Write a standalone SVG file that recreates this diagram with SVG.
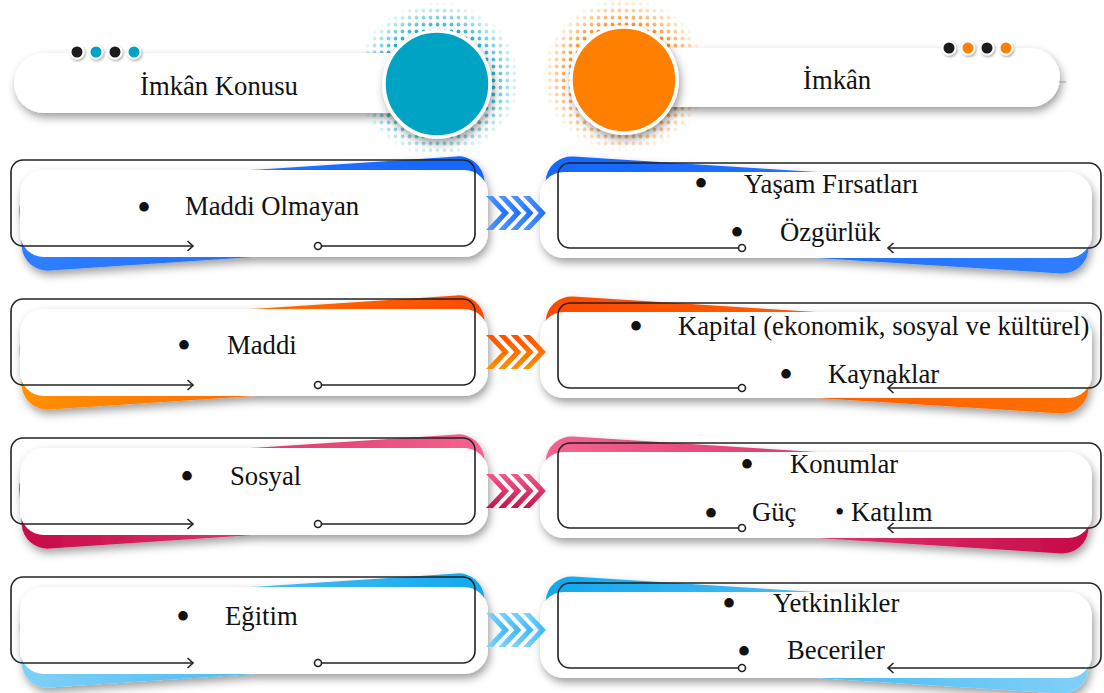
<svg xmlns="http://www.w3.org/2000/svg" width="1104" height="693" viewBox="0 0 1104 693">
  <defs>
    <style>
      .t { font-family: "Liberation Serif", "Times New Roman", serif; font-size: 26.7px; fill: #111; }
      .b { font-family: "Liberation Serif", "Times New Roman", serif; font-size: 40px; fill: #111; text-anchor: middle; }
      .card { fill: #fff; }
      .line { fill: none; stroke: #222; stroke-width: 1.6; }
      .ring { fill: #fff; stroke: #222; stroke-width: 1.6; }
      .pill { fill: #fff; }
    </style>
    <filter id="sh" x="-10%" y="-25%" width="125%" height="160%">
      <feDropShadow dx="2" dy="4.5" stdDeviation="4.5" flood-color="#000" flood-opacity="0.38"/>
    </filter>
    <filter id="shs" x="-50%" y="-50%" width="200%" height="200%">
      <feDropShadow dx="1" dy="1.5" stdDeviation="1.2" flood-color="#000" flood-opacity="0.35"/>
    </filter>
    <marker id="arr" markerWidth="10" markerHeight="12" refX="7" refY="6" orient="auto" markerUnits="userSpaceOnUse">
      <path d="M1.5,1 L7,6 L1.5,11" fill="none" stroke="#222" stroke-width="1.6"/>
    </marker>

    <!-- swoosh fills: left cards and mirrored right cards -->
    <linearGradient id="blueL" x1="0" y1="0" x2="1" y2="0"><stop offset="0" stop-color="#2f7dff"/><stop offset="1" stop-color="#1466ff"/></linearGradient>
    <linearGradient id="blueR" x1="0" y1="0" x2="1" y2="0"><stop offset="0" stop-color="#1466ff"/><stop offset="1" stop-color="#2f7dff"/></linearGradient>
    <linearGradient id="orL" x1="0" y1="0" x2="1" y2="0"><stop offset="0" stop-color="#ff9000"/><stop offset="1" stop-color="#ff4a00"/></linearGradient>
    <linearGradient id="orR" x1="0" y1="0" x2="1" y2="0"><stop offset="0" stop-color="#ff4a00"/><stop offset="1" stop-color="#ff7000"/></linearGradient>
    <linearGradient id="pkL" x1="0" y1="0" x2="1" y2="0"><stop offset="0" stop-color="#c70a48"/><stop offset="1" stop-color="#f4648f"/></linearGradient>
    <linearGradient id="pkR" x1="0" y1="0" x2="1" y2="0"><stop offset="0" stop-color="#f4648f"/><stop offset="1" stop-color="#c70a48"/></linearGradient>
    <linearGradient id="skL" x1="0" y1="0" x2="1" y2="0"><stop offset="0" stop-color="#80d0f8"/><stop offset="1" stop-color="#12a8ee"/></linearGradient>
    <linearGradient id="skR" x1="0" y1="0" x2="1" y2="0"><stop offset="0" stop-color="#12a8ee"/><stop offset="1" stop-color="#80d0f8"/></linearGradient>

    <!-- chevron fills -->
    <linearGradient id="cvBlue" x1="0" y1="0" x2="1" y2="0"><stop offset="0" stop-color="#5a9bff"/><stop offset="1" stop-color="#1a6cff"/></linearGradient>
    <linearGradient id="cvOr" x1="0" y1="0" x2="0" y2="1"><stop offset="0" stop-color="#ff4f00"/><stop offset="1" stop-color="#ff9000"/></linearGradient>
    <linearGradient id="cvPk" x1="0" y1="0" x2="0" y2="1"><stop offset="0" stop-color="#f05a88"/><stop offset="1" stop-color="#c8124c"/></linearGradient>
    <linearGradient id="cvSk" x1="0" y1="0" x2="1" y2="0"><stop offset="0" stop-color="#8ad6fb"/><stop offset="1" stop-color="#34b6f4"/></linearGradient>

    <!-- halftone halos behind the header discs -->
    <pattern id="dotT" width="7" height="7" patternUnits="userSpaceOnUse">
      <circle cx="3.5" cy="3.5" r="1.9" fill="#00a3c4"/>
    </pattern>
    <pattern id="dotO" width="7" height="7" patternUnits="userSpaceOnUse">
      <circle cx="3.5" cy="3.5" r="1.9" fill="#ff7f00"/>
    </pattern>
    <radialGradient id="fade">
      <stop offset="0.6" stop-color="#fff"/>
      <stop offset="1" stop-color="#000"/>
    </radialGradient>
    <mask id="mL" maskUnits="userSpaceOnUse" x="350" y="0" width="175" height="160">
      <rect x="355" y="2" width="165" height="155" fill="url(#fade)"/>
    </mask>
    <mask id="mR" maskUnits="userSpaceOnUse" x="535" y="0" width="180" height="160">
      <rect x="542" y="-2" width="165" height="155" fill="url(#fade)"/>
    </mask>

    <polygon id="chev" points="0,0 7,0 23,17 7,34 0,34 16,17"/>
  </defs>

  <rect width="1104" height="693" fill="#fff"/>

  <!-- header: left -->
  <g id="header-left">
    <rect x="355" y="2" width="165" height="155" fill="url(#dotT)" mask="url(#mL)"/>
    <rect class="pill" x="14" y="53" width="420" height="60" rx="30" filter="url(#sh)"/>
    <g filter="url(#shs)">
      <circle cx="77" cy="52" r="6.5" fill="#1a1a1a" stroke="#fff" stroke-width="2"/>
      <circle cx="96" cy="52" r="6.5" fill="#00a3c4" stroke="#fff" stroke-width="2"/>
      <circle cx="115" cy="52" r="6.5" fill="#1a1a1a" stroke="#fff" stroke-width="2"/>
      <circle cx="134" cy="52" r="6.5" fill="#00a3c4" stroke="#fff" stroke-width="2"/>
    </g>
    <circle cx="437" cy="84" r="53" fill="#00a3c4" stroke="#fff" stroke-width="3.5" filter="url(#sh)"/>
    <text class="t" x="140" y="95">İmkân Konusu</text>
  </g>

  <!-- header: right -->
  <g id="header-right">
    <rect x="542" y="-2" width="165" height="155" fill="url(#dotO)" mask="url(#mR)"/>
    <rect class="pill" x="600" y="48" width="460" height="59" rx="29.5" filter="url(#sh)"/>
    <line x1="1059" y1="82" x2="1066" y2="82" stroke="#999" stroke-width="1"/>
    <g filter="url(#shs)">
      <circle cx="949" cy="48" r="6.5" fill="#1a1a1a" stroke="#fff" stroke-width="2"/>
      <circle cx="968" cy="48" r="6.5" fill="#ff7f00" stroke="#fff" stroke-width="2"/>
      <circle cx="987" cy="48" r="6.5" fill="#1a1a1a" stroke="#fff" stroke-width="2"/>
      <circle cx="1006" cy="48" r="6.5" fill="#ff7f00" stroke="#fff" stroke-width="2"/>
    </g>
    <circle cx="624" cy="80" r="53" fill="#ff7f00" stroke="#fff" stroke-width="3.5" filter="url(#sh)"/>
    <text class="t" x="803" y="89">İmkân</text>
  </g>

  <!-- row 1 -->
  <g id="left-1">
    <g filter="url(#sh)">
      <rect x="20" y="170" width="466" height="87" rx="26" fill="url(#blueL)" transform="rotate(-3.8 253 213.5)"/>
      <rect class="card" x="20" y="170" width="468" height="87" rx="24"/>
    </g>
    <path class="line" marker-end="url(#arr)" d="M321.5,246 H463 A12,12 0 0 0 475,234 V172 A12,12 0 0 0 463,160 H23 A12,12 0 0 0 11,172 V234 A12,12 0 0 0 23,246 H193"/>
    <circle class="ring" cx="318" cy="246" r="3.5"/>
    <text class="b" x="144" y="221">•</text>
    <text class="t" x="185" y="215">Maddi Olmayan</text>
  </g>
  <g id="right-1">
    <g filter="url(#sh)">
      <rect x="544" y="172" width="546" height="86" rx="26" fill="url(#blueR)" transform="rotate(3.6 817 215)"/>
      <rect class="card" x="540" y="172" width="552" height="86" rx="24"/>
    </g>
    <path class="line" marker-end="url(#arr)" d="M738.5,248 H570 A12,12 0 0 1 558,236 V175 A12,12 0 0 1 570,163 H1089 A12,12 0 0 1 1101,175 V236 A12,12 0 0 1 1089,248 H888"/>
    <circle class="ring" cx="742" cy="248" r="3.5"/>
    <text class="b" x="701" y="197">•</text>
    <text class="t" x="744" y="193">Yaşam Fırsatları</text>
    <text class="b" x="737" y="246">•</text>
    <text class="t" x="780" y="241">Özgürlük</text>
  </g>

  <!-- row 2 -->
  <g id="left-2">
    <g filter="url(#sh)">
      <rect x="20" y="309" width="466" height="87" rx="26" fill="url(#orL)" transform="rotate(-3.8 253 352.5)"/>
      <rect class="card" x="20" y="309" width="468" height="87" rx="24"/>
    </g>
    <path class="line" marker-end="url(#arr)" d="M321.5,385 H463 A12,12 0 0 0 475,373 V311 A12,12 0 0 0 463,299 H23 A12,12 0 0 0 11,311 V373 A12,12 0 0 0 23,385 H193"/>
    <circle class="ring" cx="318" cy="385" r="3.5"/>
    <text class="b" x="184" y="359">•</text>
    <text class="t" x="227" y="354">Maddi</text>
  </g>
  <g id="right-2">
    <g filter="url(#sh)">
      <rect x="544" y="312" width="546" height="86" rx="26" fill="url(#orR)" transform="rotate(3.6 817 355)"/>
      <rect class="card" x="540" y="312" width="552" height="86" rx="24"/>
    </g>
    <path class="line" marker-end="url(#arr)" d="M738.5,388 H570 A12,12 0 0 1 558,376 V315 A12,12 0 0 1 570,303 H1089 A12,12 0 0 1 1101,315 V376 A12,12 0 0 1 1089,388 H888"/>
    <circle class="ring" cx="742" cy="388" r="3.5"/>
    <text class="b" x="636" y="340">•</text>
    <text class="t" x="678" y="335">Kapital (ekonomik, sosyal ve kültürel)</text>
    <text class="b" x="786" y="388">•</text>
    <text class="t" x="828" y="383">Kaynaklar</text>
  </g>

  <!-- row 3 -->
  <g id="left-3">
    <g filter="url(#sh)">
      <rect x="20" y="448" width="466" height="87" rx="26" fill="url(#pkL)" transform="rotate(-3.8 253 491.5)"/>
      <rect class="card" x="20" y="448" width="468" height="87" rx="24"/>
    </g>
    <path class="line" marker-end="url(#arr)" d="M321.5,524 H463 A12,12 0 0 0 475,512 V450 A12,12 0 0 0 463,438 H23 A12,12 0 0 0 11,450 V512 A12,12 0 0 0 23,524 H193"/>
    <circle class="ring" cx="318" cy="524" r="3.5"/>
    <text class="b" x="187" y="490">•</text>
    <text class="t" x="230" y="485">Sosyal</text>
  </g>
  <g id="right-3">
    <g filter="url(#sh)">
      <rect x="544" y="452" width="546" height="86" rx="26" fill="url(#pkR)" transform="rotate(3.6 817 495)"/>
      <rect class="card" x="540" y="452" width="552" height="86" rx="24"/>
    </g>
    <path class="line" marker-end="url(#arr)" d="M738.5,528 H570 A12,12 0 0 1 558,516 V455 A12,12 0 0 1 570,443 H1089 A12,12 0 0 1 1101,455 V516 A12,12 0 0 1 1089,528 H888"/>
    <circle class="ring" cx="742" cy="528" r="3.5"/>
    <text class="b" x="747" y="478">•</text>
    <text class="t" x="790" y="473">Konumlar</text>
    <text class="b" x="711" y="527">•</text>
    <text class="t" x="752" y="521">Güç</text>
    <text class="t" x="835" y="521">• Katılım</text>
  </g>

  <!-- row 4 -->
  <g id="left-4">
    <g filter="url(#sh)">
      <rect x="20" y="587" width="466" height="87" rx="26" fill="url(#skL)" transform="rotate(-3.8 253 630.5)"/>
      <rect class="card" x="20" y="587" width="468" height="87" rx="24"/>
    </g>
    <path class="line" marker-end="url(#arr)" d="M321.5,663 H463 A12,12 0 0 0 475,651 V589 A12,12 0 0 0 463,577 H23 A12,12 0 0 0 11,589 V651 A12,12 0 0 0 23,663 H193"/>
    <circle class="ring" cx="318" cy="663" r="3.5"/>
    <text class="b" x="183" y="630">•</text>
    <text class="t" x="225" y="625">Eğitim</text>
  </g>
  <g id="right-4">
    <g filter="url(#sh)">
      <rect x="544" y="592" width="546" height="86" rx="26" fill="url(#skR)" transform="rotate(3.6 817 635)"/>
      <rect class="card" x="540" y="592" width="552" height="86" rx="24"/>
    </g>
    <path class="line" marker-end="url(#arr)" d="M738.5,668 H570 A12,12 0 0 1 558,656 V595 A12,12 0 0 1 570,583 H1089 A12,12 0 0 1 1101,595 V656 A12,12 0 0 1 1089,668 H888"/>
    <circle class="ring" cx="742" cy="668" r="3.5"/>
    <text class="b" x="729" y="617">•</text>
    <text class="t" x="773" y="612">Yetkinlikler</text>
    <text class="b" x="744" y="665">•</text>
    <text class="t" x="787" y="659">Beceriler</text>
  </g>

  <!-- chevron connectors between each pair of cards -->
  <g id="connectors">
    <g fill="url(#cvBlue)" transform="translate(486 196)">
      <use href="#chev" x="0"/><use href="#chev" x="12.3"/><use href="#chev" x="24.6"/><use href="#chev" x="36.9"/>
    </g>
    <g fill="url(#cvOr)" transform="translate(486 335)">
      <use href="#chev" x="0"/><use href="#chev" x="12.3"/><use href="#chev" x="24.6"/><use href="#chev" x="36.9"/>
    </g>
    <g fill="url(#cvPk)" transform="translate(486 474)">
      <use href="#chev" x="0"/><use href="#chev" x="12.3"/><use href="#chev" x="24.6"/><use href="#chev" x="36.9"/>
    </g>
    <g fill="url(#cvSk)" transform="translate(486 613)">
      <use href="#chev" x="0"/><use href="#chev" x="12.3"/><use href="#chev" x="24.6"/><use href="#chev" x="36.9"/>
    </g>
  </g>
</svg>
